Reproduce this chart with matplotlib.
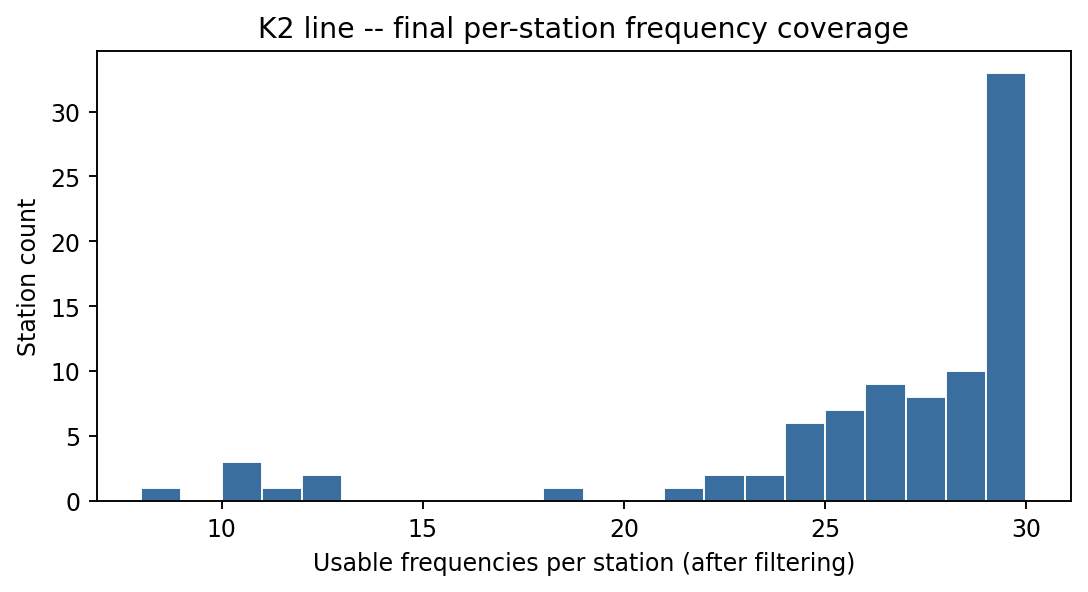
import numpy as np
import matplotlib
matplotlib.use("Agg")
import matplotlib.pyplot as plt

# usable frequencies per station, integer bins from 8 to 30
bin_edges = list(range(8, 31))
station_counts = [1, 0, 3, 1, 2, 0, 0, 0, 0, 0, 1, 0, 0, 1, 2, 2, 6, 7, 9, 8, 10, 33]

fig, ax = plt.subplots(figsize=(6.4, 3.488), dpi=170)
ax.hist(bin_edges[:-1], bins=bin_edges, weights=station_counts,
        color="#3a6e9e", edgecolor="white", linewidth=0.8)

ax.set_title("K2 line -- final per-station frequency coverage")
ax.set_xlabel("Usable frequencies per station (after filtering)")
ax.set_ylabel("Station count")
ax.set_xticks([10, 15, 20, 25, 30])

fig.subplots_adjust(left=0.089, right=0.984, top=0.912, bottom=0.154)
fig.savefig("out.png", dpi=170)
